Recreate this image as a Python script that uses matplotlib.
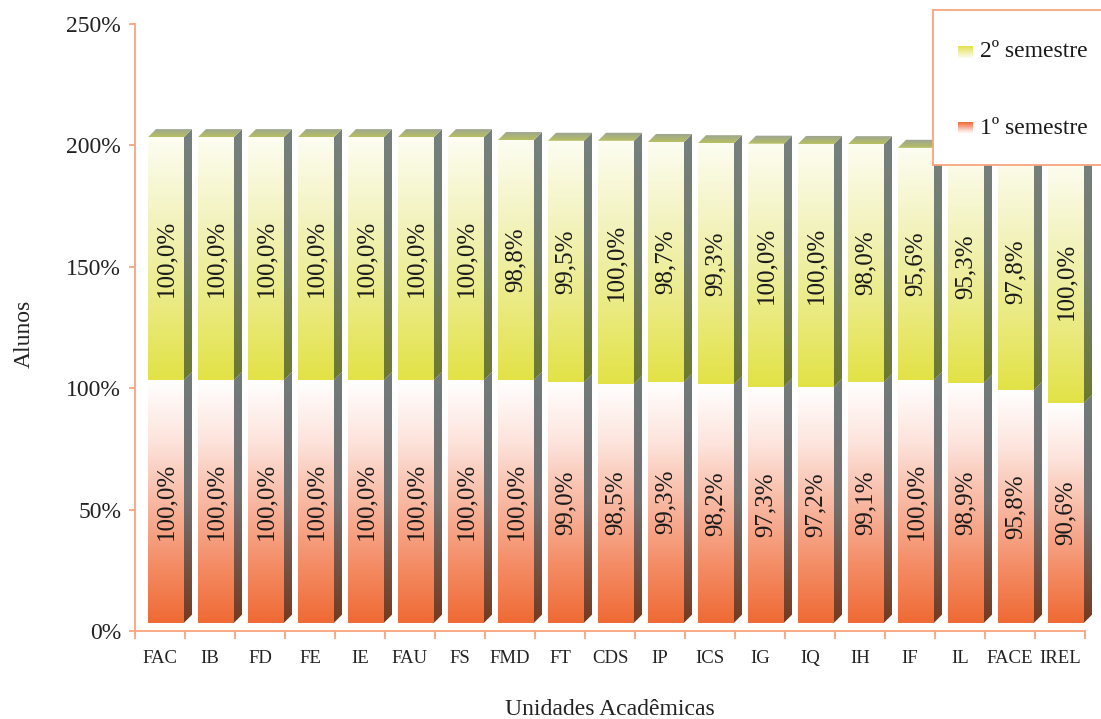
import numpy as np
import matplotlib
matplotlib.use("Agg")
import matplotlib.pyplot as plt
from matplotlib.colors import LinearSegmentedColormap
from matplotlib.patches import Polygon

plt.rcParams['font.family'] = ['Liberation Serif', 'DejaVu Serif']

unidades = ['FAC', 'IB', 'FD', 'FE', 'IE', 'FAU', 'FS', 'FMD', 'FT', 'CDS',
            'IP', 'ICS', 'IG', 'IQ', 'IH', 'IF', 'IL', 'FACE', 'IREL']
sem1 = [100.0, 100.0, 100.0, 100.0, 100.0, 100.0, 100.0, 100.0, 99.0, 98.5,
        99.3, 98.2, 97.3, 97.2, 99.1, 100.0, 98.9, 95.8, 90.6]
sem2 = [100.0, 100.0, 100.0, 100.0, 100.0, 100.0, 100.0, 98.8, 99.5, 100.0,
        98.7, 99.3, 100.0, 100.0, 98.0, 95.6, 95.3, 97.8, 100.0]
yticks = [0, 50, 100, 150, 200, 250]

# gradients (0 = bottom colour, 1 = top colour)
cm_front1 = LinearSegmentedColormap.from_list('f1', ['#ef6a34', '#f48e68', '#f8b8a2', '#fde4dc', '#ffffff'])
cm_front2 = LinearSegmentedColormap.from_list('f2', ['#e2e246', '#ebeb86', '#f3f3c0', '#fdfdf2'])
cm_side1 = LinearSegmentedColormap.from_list('s1', ['#763a1e', '#747070', '#727b7b'])
cm_side2 = LinearSegmentedColormap.from_list('s2', ['#6c7a2e', '#737d6a', '#76807e'])
cm_top = LinearSegmentedColormap.from_list('t', ['#b8c060', '#9aa298'])

axcol = '#f8a47e'
grad = np.linspace(1, 0, 256).reshape(-1, 1)

fig = plt.figure(figsize=(11.01, 7.19), dpi=100)
ax = fig.add_axes([135 / 1101, 88 / 719, 965 / 1101, 607 / 719])

base = 3.4   # floor offset of the 3d bars
dx = 0.16    # depth in category units
dy = 3.3     # depth in % units
x_l, x_r = 0.26, 0.98


def fill(x0, x1, y0, y1, cmap, clip=None):
    im = ax.imshow(grad, cmap=cmap, extent=[x0, x1, y0, y1], aspect='auto',
                   origin='upper', interpolation='bilinear', zorder=2)
    if clip is not None:
        p = Polygon(clip, closed=True, transform=ax.transData)
        im.set_clip_path(p)
    return im


for i, (a, b) in enumerate(zip(sem1, sem2)):
    x0, x1 = i + x_l, i + x_r
    segs = [(0, a, cm_front1, cm_side1), (a, a + b, cm_front2, cm_side2)]
    for y0, y1, cf, cs in segs:
        y0b, y1b = y0 + base, y1 + base
        fill(x0, x1, y0b, y1b, cf)
        side = [(x1, y0b), (x1 + dx, y0b + dy), (x1 + dx, y1b + dy), (x1, y1b)]
        fill(x1, x1 + dx, y0b, y1b + dy, cs, side)
        val = y1 - y0
        ax.text((x0 + x1) / 2, (y0b + y1b) / 2, f'{val:.1f}%'.replace('.', ','),
                rotation=90, ha='center', va='center', fontsize=18,
                color='#1a1a1a', zorder=5)
    yt = a + b + base
    top = [(x0, yt), (x1, yt), (x1 + dx, yt + dy), (x0 + dx, yt + dy)]
    fill(x0, x1 + dx, yt, yt + dy, cm_top, top)

ax.set_xlim(0, 19.3)
ax.set_ylim(0, 250)
ax.spines['top'].set_visible(False)
ax.spines['right'].set_visible(False)
for s in ['left', 'bottom']:
    ax.spines[s].set_color(axcol)
    ax.spines[s].set_linewidth(1.3)
ax.spines['bottom'].set_bounds(0, 19)

ax.set_yticks(yticks)
ax.set_yticklabels([f'{v}%' for v in yticks], fontsize=17, color='#222222')
ax.tick_params(axis='y', colors=axcol, length=4, width=1.3, pad=6, labelcolor='#222222')

ax.set_xticks(np.arange(0, 20))
ax.set_xticklabels([])
ax.set_xticks(np.arange(len(unidades)) + 0.5, minor=True)
ax.set_xticklabels(unidades, minor=True, fontsize=13.5, color='#222222')
ax.tick_params(axis='x', which='major', colors=axcol, length=6, width=1.3)
ax.tick_params(axis='x', which='minor', length=0, pad=14)

ax.set_ylabel('Alunos', fontsize=17, color='#222222')
ax.yaxis.set_label_coords(-100 / 965, 0.49)
ax.set_xlabel('Unidades Acadêmicas', fontsize=17, color='#222222')
ax.xaxis.set_label_coords(475 / 965, -68 / 607)

# legend box
lg = fig.add_axes([933 / 1101, 1 - 165 / 719, 175 / 1101, 155 / 719])
lg.set_xticks([])
lg.set_yticks([])
for s in lg.spines.values():
    s.set_color(axcol)
    s.set_linewidth(1.3)
for yc, cm, txt in [(42, cm_front2, '2º semestre'), (118, cm_front1, '1º semestre')]:
    lg.imshow(grad, cmap=cm, extent=[25, 40, yc + 6, yc - 6], aspect='auto',
              origin='lower', interpolation='bilinear')
    lg.text(47, yc, txt, fontsize=17, va='center', ha='left', color='#1a1a1a')
lg.set_xlim(0, 175)
lg.set_ylim(155, 0)

fig.savefig('out.png', dpi=100)
